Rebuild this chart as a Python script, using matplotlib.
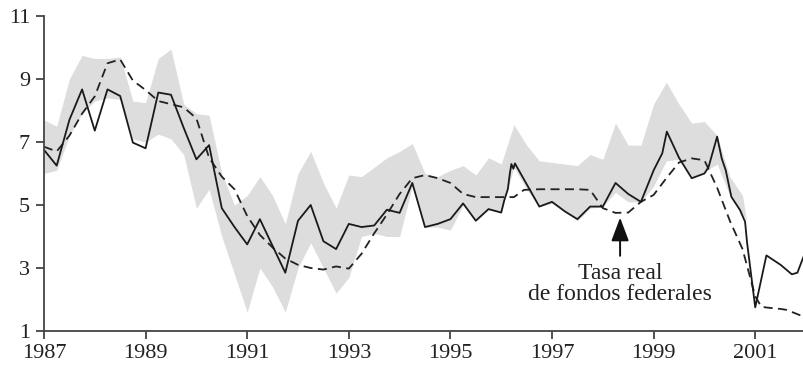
import numpy as np
import matplotlib.pyplot as plt

# real federal funds rate (quarterly, with a few monthly moves)
fed_t = [1987.0, 1987.25, 1987.5, 1987.75, 1988.0, 1988.25, 1988.5, 1988.75,
         1989.0, 1989.25, 1989.5, 1989.75, 1990.0, 1990.25, 1990.5, 1990.75,
         1991.0, 1991.25, 1991.5, 1991.75, 1992.0, 1992.25, 1992.5, 1992.75,
         1993.0, 1993.25, 1993.5, 1993.75, 1994.0, 1994.25, 1994.5, 1994.75,
         1995.0, 1995.25, 1995.5, 1995.75, 1996.0, 1996.06, 1996.13, 1996.17,
         1996.2, 1996.24, 1996.27, 1996.75, 1997.0, 1997.25, 1997.5, 1997.75,
         1998.0, 1998.25, 1998.5, 1998.75, 1999.0, 1999.17, 1999.26, 1999.5,
         1999.75, 2000.0, 2000.08, 2000.25, 2000.34, 2000.42, 2000.53, 2000.7,
         2000.8, 2000.84, 2001.0, 2001.22, 2001.5, 2001.72, 2001.83, 2001.96]
fed_rate = [6.75, 6.25, 7.7, 8.67, 7.36, 8.67, 8.46, 6.98,
            6.8, 8.57, 8.5, 7.45, 6.45, 6.9, 4.9, 4.3,
            3.75, 4.55, 3.7, 2.85, 4.5, 5.0, 3.85, 3.6,
            4.4, 4.3, 4.35, 4.85, 4.75, 5.7, 4.3, 4.4,
            4.55, 5.05, 4.5, 4.87, 4.76, 5.15, 5.5, 6.0,
            6.3, 6.15, 6.32, 4.95, 5.1, 4.8, 4.55, 4.95,
            4.95, 5.7, 5.35, 5.1, 6.1, 6.64, 7.33, 6.5,
            5.85, 6.0, 6.2, 7.17, 6.48, 6.1, 5.26, 4.84,
            4.47, 3.8, 1.75, 3.4, 3.1, 2.8, 2.85, 3.4]

# rule-based estimate
rule_t = [1987.0, 1987.25, 1987.5, 1987.75, 1988.0, 1988.25, 1988.5, 1988.75,
          1989.0, 1989.25, 1989.5, 1989.75, 1990.0, 1990.25, 1990.5, 1990.75,
          1991.0, 1991.25, 1991.5, 1991.75, 1992.0, 1992.25, 1992.5, 1992.75,
          1993.0, 1993.25, 1993.5, 1993.75, 1994.0, 1994.25, 1994.5, 1994.75,
          1995.0, 1995.25, 1995.5, 1995.75, 1996.0, 1996.25, 1996.45, 1996.75,
          1997.0, 1997.25, 1997.5, 1997.75, 1998.0, 1998.25, 1998.5, 1998.75,
          1999.0, 1999.25, 1999.5, 1999.75, 2000.0, 2000.25, 2000.5, 2000.75,
          2001.0, 2001.12, 2001.25, 2001.5, 2001.62, 2001.96]
rule_rate = [6.85, 6.7, 7.2, 7.9, 8.45, 9.5, 9.62, 8.95,
             8.65, 8.3, 8.2, 8.1, 7.75, 6.5, 5.9, 5.5,
             4.65, 4.05, 3.65, 3.3, 3.1, 3.0, 2.95, 3.05,
             2.98, 3.45, 4.1, 4.7, 5.35, 5.85, 5.95, 5.85,
             5.7, 5.35, 5.25, 5.25, 5.25, 5.25, 5.48, 5.5,
             5.5, 5.5, 5.5, 5.48, 4.9, 4.75, 4.76, 5.1,
             5.32, 5.85, 6.35, 6.48, 6.42, 5.55, 4.5, 3.6,
             2.1, 1.77, 1.74, 1.7, 1.67, 1.45]

# range of estimates (shaded band)
band_t = [1987.0, 1987.25, 1987.5, 1987.75, 1988.0, 1988.25, 1988.5, 1988.75,
          1989.0, 1989.25, 1989.5, 1989.75, 1990.0, 1990.25, 1990.5, 1990.75,
          1991.0, 1991.25, 1991.5, 1991.75, 1992.0, 1992.25, 1992.5, 1992.75,
          1993.0, 1993.25, 1993.5, 1993.75, 1994.0, 1994.25, 1994.5, 1994.75,
          1995.0, 1995.25, 1995.5, 1995.75, 1996.0, 1996.25, 1996.5, 1996.75,
          1997.0, 1997.25, 1997.5, 1997.75, 1998.0, 1998.25, 1998.5, 1998.75,
          1999.0, 1999.25, 1999.5, 1999.75, 2000.0, 2000.25, 2000.5, 2000.75,
          2000.83]
band_hi = [7.7, 7.5, 9.0, 9.75, 9.65, 9.65, 9.7, 8.3,
           8.25, 9.65, 9.95, 8.2, 7.9, 7.85, 6.0, 5.0,
           5.3, 5.9, 5.3, 4.4, 6.0, 6.7, 5.7, 4.9,
           5.95, 5.9, 6.2, 6.5, 6.7, 6.95, 6.0, 5.9,
           6.1, 6.25, 5.95, 6.5, 6.3, 7.55, 6.9, 6.4,
           6.35, 6.3, 6.25, 6.6, 6.45, 7.6, 6.9, 6.9,
           8.2, 8.9, 8.2, 7.6, 7.65, 7.2, 5.9, 5.3,
           4.5]
band_lo = [6.0, 6.1, 7.2, 7.9, 8.3, 8.4, 8.35, 7.1,
           7.0, 7.25, 7.1, 6.6, 4.9, 5.5, 4.0, 2.8,
           1.6, 3.0, 2.4, 1.6, 3.0, 3.8, 3.0, 2.2,
           2.7, 4.0, 4.1, 4.0, 4.0, 5.6, 4.3, 4.3,
           4.2, 5.0, 4.5, 4.85, 4.75, 6.2, 5.5, 4.95,
           5.05, 4.8, 4.5, 4.9, 4.95, 5.4, 5.1, 5.1,
           5.6, 6.4, 6.45, 5.9, 6.05, 6.3, 5.3, 4.7,
           4.5]

x_ticks = [1987, 1989, 1991, 1993, 1995, 1997, 1999, 2001]
y_ticks = [1, 3, 5, 7, 9, 11]

plt.rcParams["font.family"] = ["Liberation Serif", "DejaVu Serif"]

fig = plt.figure(figsize=(8.04, 3.70), dpi=100)
ax = fig.add_axes([0.0547, 0.1054, 0.9453, 0.8514])

ax.fill_between(band_t, band_lo, band_hi, color="#dddddd", linewidth=0)
ax.plot(rule_t, rule_rate, color="#222222", linewidth=1.3,
        linestyle=(0, (5, 3)))
ax.plot(fed_t, fed_rate, color="#1a1a1a", linewidth=1.3)

ax.annotate(
    "Tasa real\nde fondos federales",
    xy=(1998.34, 4.6),
    xytext=(1998.34, 2.5),
    ha="center",
    va="center",
    fontsize=17,
    color="#222222",
    linespacing=1.0,
    arrowprops=dict(arrowstyle="-|>,head_length=0.8,head_width=0.3",
                    color="#111111", lw=1.4,
                    mutation_scale=18, shrinkA=3, shrinkB=0)
)

ax.set_xlim(1987, 2001.96)
ax.set_ylim(1, 11)
ax.set_xticks(x_ticks)
ax.set_yticks(y_ticks)

for side in ["top", "right"]:
    ax.spines[side].set_visible(False)
for side in ["left", "bottom"]:
    ax.spines[side].set_color("#444444")
    ax.spines[side].set_linewidth(1.3)

ax.tick_params(axis="both", direction="out", length=6, width=1.3,
               color="#444444", labelsize=16, labelcolor="#222222")
ax.tick_params(axis="x", pad=3)
ax.tick_params(axis="y", pad=4)

fig.savefig("out.png", dpi=100)
